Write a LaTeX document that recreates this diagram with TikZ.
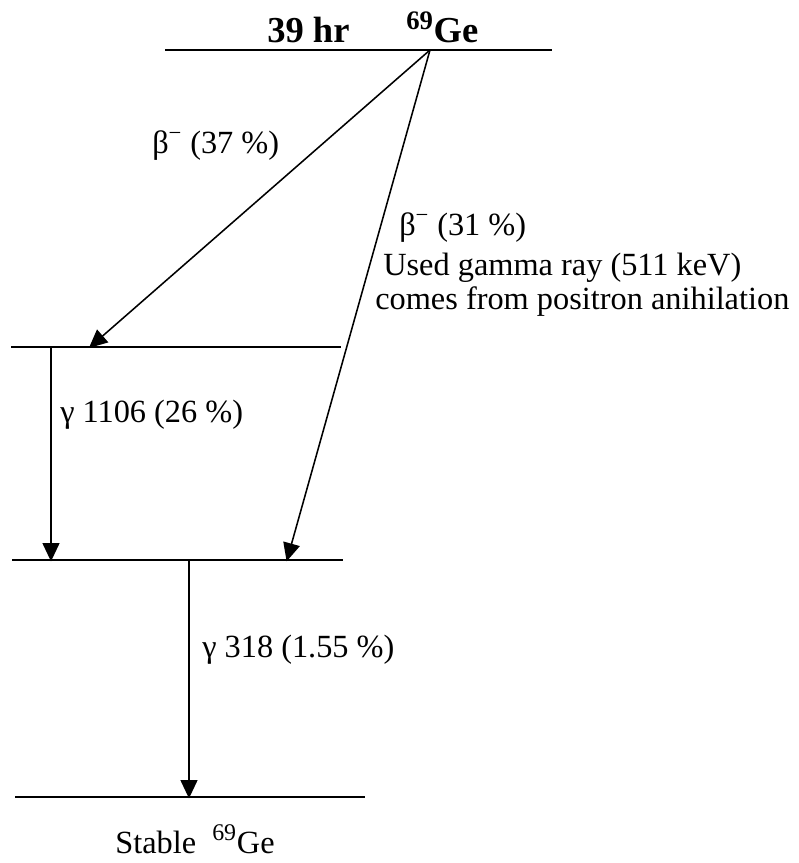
\documentclass[tikz,border=0pt]{standalone}
\usepackage{fontspec}
\setmainfont{Liberation Serif}
\usetikzlibrary{positioning, arrows.meta}

\begin{document}
\begin{tikzpicture}[
			x=0.025cm, y=-0.025cm,
			% --- Styles ---
			level/.style={
				draw, line width=1.1pt
			},
			line/.style={
				draw, -{Triangle[length=13pt, width=12pt]}, line width=1.1pt, shorten >=-1pt
			},
			decaylabel/.style={
				anchor=base west, inner sep=0pt, align=left,
				font=\fontsize{23}{28}\selectfont
			},
			toplabel/.style={
				anchor=base west, inner sep=0pt,
				font=\fontsize{26}{30}\selectfont\bfseries
			}
			]
			
			% --- 0. Frame ---
			\useasboundingbox (0,0) rectangle (799,863);
			
			% --- 1. Energy levels ---
			\coordinate (parent_l) at (165,50);
			\coordinate (parent_r) at (552,50);
			\coordinate (mid_l) at (11,347);
			\coordinate (mid_r) at (341,347);
			\coordinate (low_l) at (12,560);
			\coordinate (low_r) at (343,560);
			\coordinate (ground_l) at (15,797);
			\coordinate (ground_r) at (365,797);
			
			\draw [level] (parent_l) -- (parent_r);
			\draw [level] (mid_l) -- (mid_r);
			\draw [level] (low_l) -- (low_r);
			\draw [level] (ground_l) -- (ground_r);
			
			% --- 2. Level labels ---
			\node [toplabel] (halflife) at (267,42) {39 hr};
			\node [toplabel] (parent_name) at (406,42) {\textsuperscript{\fontsize{19}{20}\selectfont 69}Ge};
			\node [decaylabel] (stable_name) at (115,853) {Stable\ \ \textsuperscript{\fontsize{17}{18}\selectfont 69}Ge};
			
			% --- 3. Beta branches ---
			\coordinate (parent_src) at (430,50);
			\coordinate (mid_in) at (90,347);
			\coordinate (low_in) at (287,560);
			
			\draw [line] (parent_src) -- (mid_in);
			\draw [line] (parent_src) -- (low_in);
			
			\node [decaylabel] (beta_a) at (152,153) {β\textsuperscript{−} (37 \%)};
			\node [decaylabel] (beta_b) at (399,235) {β\textsuperscript{−} (31 \%)};
			\node [decaylabel] (note_a) at (383,275) {Used gamma ray (511 keV)};
			\node [decaylabel] (note_b) at (375,309) {comes from positron anihilation};
			
			% --- 4. Gamma transitions ---
			\coordinate (mid_src) at (51,347);
			\coordinate (low_dst) at (51,560);
			\coordinate (low_src) at (189,560);
			\coordinate (ground_dst) at (189,797);
			
			\draw [line] (mid_src) -- (low_dst);
			\draw [line] (low_src) -- (ground_dst);
			
			\node [decaylabel] (gamma_a) at (60,422) {γ 1106 (26 \%)};
			\node [decaylabel] (gamma_b) at (202,657) {γ 318 (1.55 \%)};
			
		\end{tikzpicture}
\end{document}
